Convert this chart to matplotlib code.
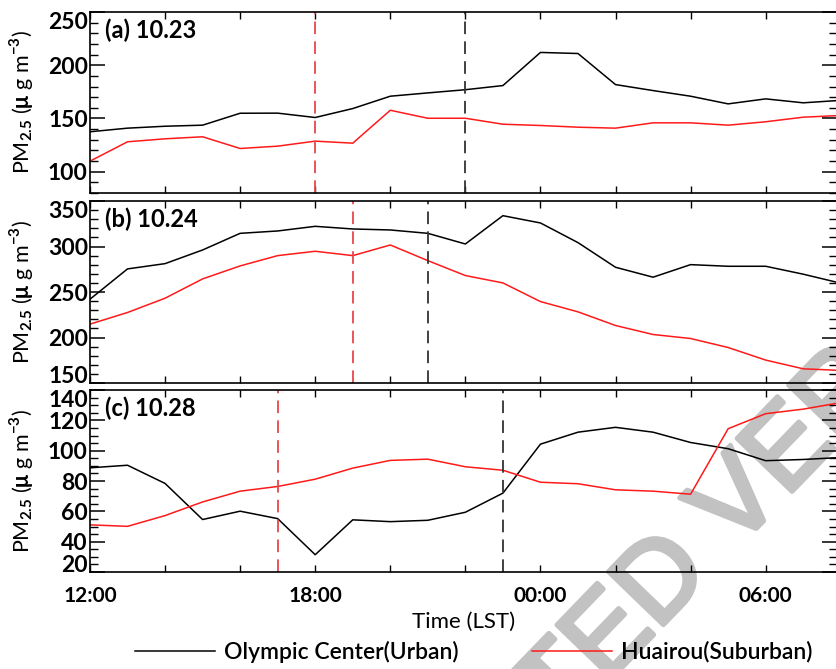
import matplotlib
matplotlib.use('Agg')
import matplotlib.pyplot as plt
import matplotlib.patheffects as pe
from matplotlib.ticker import MultipleLocator, FixedLocator

plt.rcParams['font.family'] = ['Lato', 'DejaVu Sans']
plt.rcParams['font.weight'] = 'bold'
plt.rcParams['mathtext.fontset'] = 'custom'
plt.rcParams['mathtext.rm'] = 'Lato:bold'
plt.rcParams['mathtext.it'] = 'Lato:bold'
plt.rcParams['mathtext.bf'] = 'Lato:bold'

# hours after 12:00 LST
hours = list(range(21))
tick_hours = [0, 6, 12, 18]
tick_labels = ['12:00', '18:00', '00:00', '06:00']

# (a) 10.23
urban_a = [137.5, 140.9, 142.7, 143.7, 154.9, 155.0, 150.9, 159.3, 170.9, 174.0, 177.0,
           180.9, 212.0, 211.0, 181.8, 176.2, 170.9, 163.7, 168.4, 164.7, 167.0]
suburb_a = [109.9, 128.1, 130.9, 132.8, 121.8, 124.0, 128.7, 126.8, 157.7, 150.2, 150.2,
            144.6, 143.4, 141.8, 140.9, 145.9, 145.9, 143.7, 146.9, 151.2, 152.8]
# (b) 10.24
urban_b = [242.1, 275.4, 281.2, 296.2, 314.5, 317.1, 322.2, 319.3, 318.2, 314.5, 302.8,
           333.9, 325.9, 304.3, 277.2, 266.3, 280.1, 278.3, 278.3, 269.6, 259.7]
suburb_b = [214.7, 227.5, 243.2, 264.4, 278.7, 290.0, 294.8, 290.0, 301.7, 284.5, 268.1,
            260.0, 239.5, 228.2, 213.2, 203.3, 198.9, 189.0, 175.2, 165.6, 163.8]
# (c) 10.28
urban_c = [88.7, 90.4, 78.4, 54.6, 60.1, 55.2, 31.4, 54.4, 53.2, 54.1, 59.4,
           72.0, 104.3, 112.2, 115.4, 112.2, 105.4, 101.3, 93.4, 94.2, 95.5]
suburb_c = [51.1, 50.1, 57.2, 66.2, 73.3, 76.4, 81.2, 88.5, 93.6, 94.4, 89.4,
            87.1, 79.2, 78.2, 74.2, 73.3, 71.3, 114.5, 124.4, 127.4, 131.7]

titles = ['(a) 10.23', '(b) 10.24', '(c) 10.28']
ylims = [(80, 250), (150, 350), (20, 140)]
yticks = [[100, 150, 200, 250], [150, 200, 250, 300, 350], [20, 40, 60, 80, 100, 120, 140]]
yminor = [10, 10, 5]
# dashed markers (hours after 12:00): suburban, urban
red_lines = [6, 7, 5]
black_lines = [10, 9, 11]

urban = [urban_a, urban_b, urban_c]
suburb = [suburb_a, suburb_b, suburb_c]

fig = plt.figure(figsize=(8.37, 6.69), dpi=100)

# watermark behind everything
fig.text(0.821, 0.103, 'ACCEPTED VERSION', fontsize=80, color='#c2c2c2',
         family='Liberation Sans', fontweight='normal', rotation=46,
         rotation_mode='anchor', ha='center', va='baseline', zorder=-1,
         path_effects=[pe.withStroke(linewidth=3.5, foreground='#c2c2c2')])

boxes = [(0.1075, 0.7115, 0.8925, 0.2706),
         (0.1075, 0.4275, 0.8925, 0.2720),
         (0.1075, 0.1450, 0.8925, 0.2720)]

for i in range(3):
    ax = fig.add_axes(boxes[i])
    ax.set_facecolor('none')
    l1, = ax.plot(hours, urban[i], color='black', lw=1.1)
    l2, = ax.plot(hours, suburb[i], color='#ff1a1a', lw=1.1)
    ax.axvline(red_lines[i], color='#e8474a', lw=1.3, dashes=(7, 4))
    ax.axvline(black_lines[i], color='#333333', lw=1.3, dashes=(7, 4))
    ax.set_xlim(0, 19.9)
    ax.set_ylim(*ylims[i])
    ax.set_yticks(yticks[i])
    ax.yaxis.set_minor_locator(MultipleLocator(yminor[i]))
    ax.xaxis.set_major_locator(FixedLocator(list(range(0, 21, 2))))
    ax.tick_params(axis='y', which='major', direction='in', length=11, width=1.1,
                   left=True, right=True, labelsize=16.5, pad=1.5)
    ax.tick_params(axis='y', which='minor', direction='in', length=6, width=1.0,
                   left=True, right=True)
    ax.tick_params(axis='x', which='major', direction='in', length=5, width=1.0,
                   top=True, bottom=True, labelsize=15, pad=10)
    # end labels sit inside the panel, like the original
    ticks = ax.yaxis.get_major_ticks()
    for t, v in zip(ticks, yticks[i]):
        if v == ylims[i][1]:
            t.label1.set_va('top')
        elif v == ylims[i][0]:
            t.label1.set_va('baseline')
    for s in ax.spines.values():
        s.set_linewidth(1.2)
    if i == 2:
        labs = []
        for h in range(0, 21, 2):
            labs.append(tick_labels[tick_hours.index(h)] if h in tick_hours else '')
        ax.set_xticklabels(labs)
        ax.set_xlabel('Time (LST)', fontsize=16, labelpad=4)
    else:
        ax.set_xticklabels([])
    ax.set_ylabel('PM$_{2.5}$ ($\\mu$ g m$^{-3}$)', fontsize=15.5)
    ax.yaxis.set_label_coords(-0.072, 0.5)
    ax.text(0.02, 0.9, titles[i], transform=ax.transAxes, fontsize=17, va='center')

fig.legend([l1, l2], ['Olympic Center(Urban)', 'Huairou(Suburban)'], loc='center',
           bbox_to_anchor=(0.566, 0.026), ncol=2, frameon=False,
           prop={'size': 16.5, 'weight': 'semibold'},
           handlelength=3.5, columnspacing=3.2, handletextpad=0.4)

fig.savefig('out.png', dpi=100)
